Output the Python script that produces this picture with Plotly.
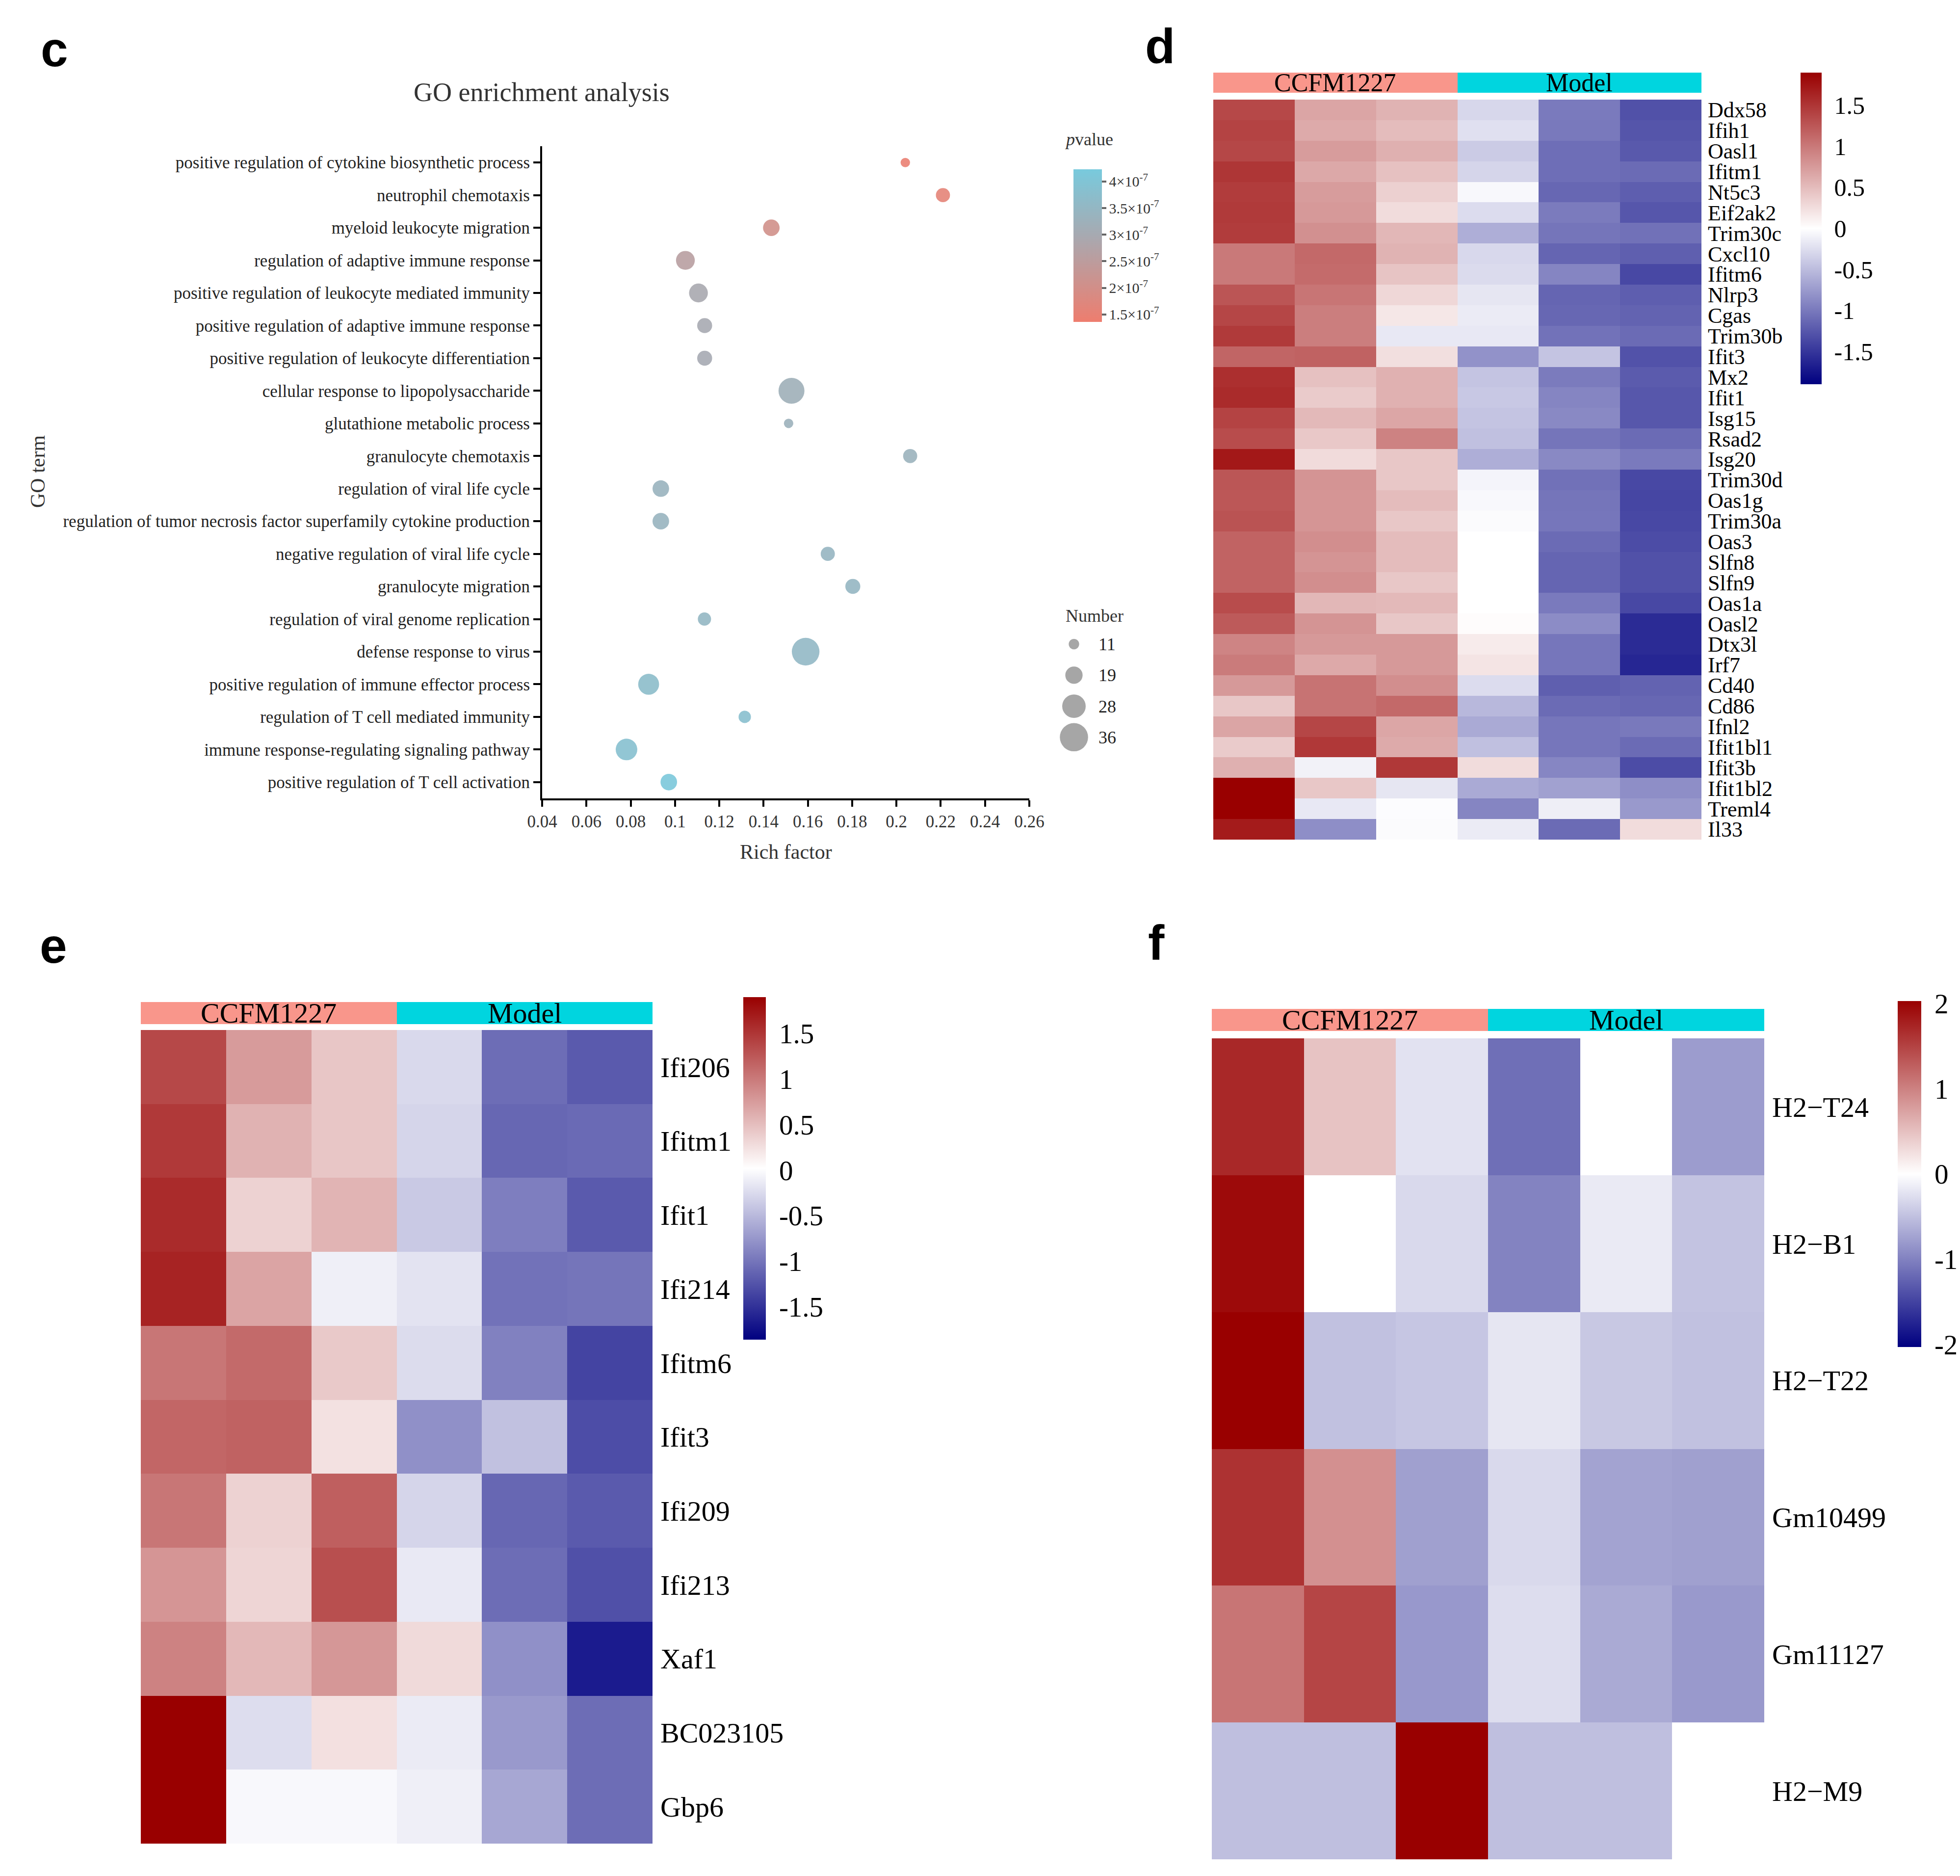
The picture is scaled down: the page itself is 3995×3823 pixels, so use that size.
"""
GO enrichment dot plot (c) and three z-score heatmaps (d, e, f), drawn in one Plotly page.
"""

import plotly.graph_objects as go

W, H = 3995, 3823
SERIF = "Liberation Serif, Times New Roman, serif"
SANS = "Liberation Sans, Arial, sans-serif"

# ---------------------------------------------------------------------------
# Panel c data
# ---------------------------------------------------------------------------
GO_TERMS = [
    "positive regulation of cytokine biosynthetic process",
    "neutrophil chemotaxis",
    "myeloid leukocyte migration",
    "regulation of adaptive immune response",
    "positive regulation of leukocyte mediated immunity",
    "positive regulation of adaptive immune response",
    "positive regulation of leukocyte differentiation",
    "cellular response to lipopolysaccharide",
    "glutathione metabolic process",
    "granulocyte chemotaxis",
    "regulation of viral life cycle",
    "regulation of tumor necrosis factor superfamily cytokine production",
    "negative regulation of viral life cycle",
    "granulocyte migration",
    "regulation of viral genome replication",
    "defense response to virus",
    "positive regulation of immune effector process",
    "regulation of T cell mediated immunity",
    "immune response-regulating signaling pathway",
    "positive regulation of T cell activation",
]
RICH_FACTOR = [0.204, 0.221, 0.1435, 0.1047, 0.1106, 0.1134, 0.1134, 0.1526, 0.1513, 0.2062,
               0.0936, 0.0936, 0.169, 0.1803, 0.1133, 0.159, 0.0881, 0.1315, 0.0781, 0.0972]
GENE_NUMBER = [10, 15, 18, 21, 21, 16, 16, 32, 10, 15,
               18, 18, 15, 16, 14, 35, 24, 13, 25, 18]
P_VALUE = [1.45e-7, 1.6e-7, 2.05e-7, 2.6e-7, 2.95e-7, 3.0e-7, 3.02e-7, 3.2e-7, 3.28e-7, 3.3e-7,
           3.35e-7, 3.38e-7, 3.45e-7, 3.47e-7, 3.5e-7, 3.55e-7, 3.7e-7, 3.8e-7, 3.85e-7, 4.15e-7]
X_TICKS = [0.04, 0.06, 0.08, 0.1, 0.12, 0.14, 0.16, 0.18, 0.2, 0.22, 0.24, 0.26]
P_TICKS = [1.5e-7, 2e-7, 2.5e-7, 3e-7, 3.5e-7, 4e-7]
P_TICK_TEXT = ["1.5×10<sup>-7</sup>", "2×10<sup>-7</sup>", "2.5×10<sup>-7</sup>",
               "3×10<sup>-7</sup>", "3.5×10<sup>-7</sup>", "4×10<sup>-7</sup>"]
SIZE_LEGEND = [11, 19, 28, 36]

# ---------------------------------------------------------------------------
# Heatmap data (row z-scores)
# ---------------------------------------------------------------------------
SAMPLES = ["CCFM1227_1", "CCFM1227_2", "CCFM1227_3", "Model_1", "Model_2", "Model_3"]
GROUPS = ["CCFM1227", "CCFM1227", "CCFM1227", "Model", "Model", "Model"]
GROUP_NAMES = ["CCFM1227", "Model"]

D_GENES = ["Ddx58", "Ifih1", "Oasl1", "Ifitm1", "Nt5c3", "Eif2ak2", "Trim30c", "Cxcl10",
           "Ifitm6", "Nlrp3", "Cgas", "Trim30b", "Ifit3", "Mx2", "Ifit1", "Isg15", "Rsad2",
           "Isg20", "Trim30d", "Oas1g", "Trim30a", "Oas3", "Slfn8", "Slfn9", "Oas1a", "Oasl2",
           "Dtx3l", "Irf7", "Cd40", "Cd86", "Ifnl2", "Ifit1bl1", "Ifit3b", "Ifit1bl2",
           "Treml4", "Il33"]
D_VALUES = [
    [1.36, 0.67, 0.57, -0.30, -0.99, -1.30],
    [1.40, 0.63, 0.50, -0.23, -1.00, -1.27],
    [1.37, 0.74, 0.59, -0.39, -1.08, -1.24],
    [1.50, 0.65, 0.46, -0.31, -1.08, -1.10],
    [1.45, 0.74, 0.35, -0.05, -1.13, -1.20],
    [1.47, 0.76, 0.26, -0.26, -0.98, -1.26],
    [1.45, 0.83, 0.54, -0.60, -1.03, -1.06],
    [1.00, 1.12, 0.57, -0.29, -1.15, -1.19],
    [1.00, 1.10, 0.44, -0.27, -0.91, -1.36],
    [1.27, 1.03, 0.30, -0.19, -1.15, -1.20],
    [1.38, 0.96, 0.18, -0.15, -1.13, -1.16],
    [1.47, 0.96, -0.17, -0.17, -1.05, -1.10],
    [1.15, 1.17, 0.24, -0.81, -0.44, -1.29],
    [1.55, 0.46, 0.58, -0.44, -0.98, -1.22],
    [1.58, 0.39, 0.58, -0.41, -0.91, -1.25],
    [1.40, 0.52, 0.66, -0.44, -0.88, -1.25],
    [1.33, 0.41, 0.93, -0.47, -1.03, -1.10],
    [1.72, 0.27, 0.42, -0.60, -0.88, -0.99],
    [1.26, 0.80, 0.42, -0.08, -1.06, -1.36],
    [1.25, 0.79, 0.50, -0.05, -1.03, -1.38],
    [1.28, 0.79, 0.42, -0.03, -1.02, -1.36],
    [1.16, 0.84, 0.50, 0.00, -1.10, -1.33],
    [1.16, 0.80, 0.50, 0.00, -1.15, -1.30],
    [1.16, 0.84, 0.42, 0.00, -1.15, -1.30],
    [1.33, 0.54, 0.52, 0.00, -0.99, -1.36],
    [1.23, 0.80, 0.42, 0.02, -0.86, -1.58],
    [0.92, 0.76, 0.76, 0.15, -1.02, -1.58],
    [0.98, 0.64, 0.76, 0.20, -1.02, -1.62],
    [0.76, 1.04, 0.84, -0.26, -1.19, -1.16],
    [0.42, 1.04, 1.12, -0.53, -1.10, -1.13],
    [0.67, 1.38, 0.66, -0.63, -1.02, -1.00],
    [0.39, 1.48, 0.63, -0.47, -1.02, -1.10],
    [0.59, -0.10, 1.48, 0.26, -0.90, -1.33],
    [1.90, 0.42, -0.19, -0.63, -0.70, -0.84],
    [1.90, -0.17, -0.02, -0.91, -0.13, -0.76],
    [1.70, -0.84, -0.03, -0.15, -1.10, 0.26],
]

E_GENES = ["Ifi206", "Ifitm1", "Ifit1", "Ifi214", "Ifitm6", "Ifit3", "Ifi209", "Ifi213",
           "Xaf1", "BC023105", "Gbp6"]
E_VALUES = [
    [1.37, 0.76, 0.44, -0.26, -1.06, -1.20],
    [1.48, 0.59, 0.44, -0.29, -1.10, -1.08],
    [1.58, 0.35, 0.57, -0.38, -0.93, -1.20],
    [1.64, 0.69, -0.10, -0.19, -1.02, -1.00],
    [1.03, 1.12, 0.42, -0.24, -0.91, -1.36],
    [1.15, 1.18, 0.24, -0.80, -0.44, -1.29],
    [1.03, 0.35, 1.20, -0.29, -1.10, -1.20],
    [0.80, 0.33, 1.32, -0.14, -1.06, -1.27],
    [0.94, 0.54, 0.79, 0.29, -0.80, -1.66],
    [1.90, -0.23, 0.25, -0.13, -0.73, -1.06],
    [1.90, -0.03, -0.03, -0.10, -0.63, -1.06],
]

F_GENES = ["H2−T24", "H2−B1", "H2−T22", "Gm10499", "Gm11127", "H2−M9"]
F_VALUES = [
    [1.71, 0.48, -0.23, -1.15, 0.00, -0.79],
    [1.95, 0.00, -0.30, -0.99, -0.17, -0.48],
    [2.03, -0.49, -0.45, -0.20, -0.44, -0.49],
    [1.63, 0.88, -0.76, -0.30, -0.73, -0.76],
    [1.10, 1.48, -0.82, -0.27, -0.68, -0.81],
    [-0.51, -0.51, 2.03, -0.51, -0.51, 0.00],
]

TICKS_DE = [-1.5, -1, -0.5, 0, 0.5, 1, 1.5]
TICKS_F = [-2, -1, 0, 1, 2]

# ---------------------------------------------------------------------------
# Styles
# ---------------------------------------------------------------------------
P_COLORS = [[0.0, "#EE7D6E"], [0.55, "#A9A8AF"], [1.0, "#78CADD"]]
HEAT_COLORS = [[0.0, "#000080"], [0.5, "#FFFFFF"], [1.0, "#990000"]]
GROUP_COLORS = [[0.0, "#F9968B"], [0.5, "#F9968B"], [0.5, "#00D5DF"], [1.0, "#00D5DF"]]


def fx(px):
    return px / W


def fy(py):
    return 1 - py / H


def dot_size(n):
    """Marker diameter (px) for a gene count."""
    return 13.5 * n ** 0.5 - 23.5


def hidden_axis(**kw):
    base = dict(visible=False, showgrid=False, zeroline=False, fixedrange=True)
    base.update(kw)
    return base


fig = go.Figure()

# --- c: dot plot ---
fig.add_trace(go.Scatter(
    x=RICH_FACTOR, y=GO_TERMS, mode="markers",
    marker=dict(size=[dot_size(n) for n in GENE_NUMBER], color=P_VALUE,
                coloraxis="coloraxis", opacity=0.9, line=dict(width=0)),
    xaxis="x", yaxis="y", showlegend=False,
))

# --- c: size legend ---
fig.add_trace(go.Scatter(
    x=[0] * len(SIZE_LEGEND), y=[str(n) for n in SIZE_LEGEND], mode="markers",
    marker=dict(size=[dot_size(n) for n in SIZE_LEGEND], color="#808080", line=dict(width=0)),
    xaxis="x2", yaxis="y2", showlegend=False,
))

# --- heatmaps + group bars ---
panels = [
    # values, genes, heat axes, bar axes, coloraxis
    (D_VALUES, D_GENES, ("x3", "y3"), ("x4", "y4"), "coloraxis2"),
    (E_VALUES, E_GENES, ("x5", "y5"), ("x6", "y6"), "coloraxis3"),
    (F_VALUES, F_GENES, ("x7", "y7"), ("x8", "y8"), "coloraxis4"),
]
group_codes = [[GROUP_NAMES.index(g) for g in GROUPS]]
for values, genes, (hx, hy), (bx, by), cax in panels:
    fig.add_trace(go.Heatmap(z=values, x=SAMPLES, y=genes, coloraxis=cax,
                             xaxis=hx, yaxis=hy, hoverongaps=False))
    fig.add_trace(go.Heatmap(z=group_codes, x=SAMPLES, y=["Group"], colorscale=GROUP_COLORS,
                             zmin=0, zmax=1, showscale=False, xaxis=bx, yaxis=by))

# ---------------------------------------------------------------------------
# Layout
# ---------------------------------------------------------------------------
layout = dict(
    width=W, height=H,
    margin=dict(l=0, r=0, t=0, b=0),
    paper_bgcolor="white", plot_bgcolor="white",
    font=dict(family=SERIF, color="#222222"),
    xaxis=dict(domain=[fx(1097), fx(2090)], range=[0.04, 0.26], tickmode="array",
               tickvals=X_TICKS, ticktext=[f"{t:g}" for t in X_TICKS],
               showline=True, linewidth=4, linecolor="black", ticks="outside",
               ticklen=13, tickwidth=4, tickcolor="black", showgrid=False, zeroline=False,
               tickfont=dict(family=SERIF, size=35, color="#333333"), anchor="y",
               automargin=False),
    yaxis=dict(domain=[fy(1619), fy(290)], type="category", categoryorder="array",
               categoryarray=GO_TERMS, tickmode="array", tickvals=GO_TERMS, ticktext=GO_TERMS,
               range=[len(GO_TERMS) - 0.5, -0.5],
               showline=True, linewidth=4, linecolor="black", ticks="outside",
               ticklen=14, tickwidth=4, tickcolor="black", showgrid=False, zeroline=False,
               tickfont=dict(family=SERIF, size=35, color="#222222"), anchor="x",
               automargin=False),
    xaxis2=hidden_axis(domain=[fx(2150), fx(2212)], range=[-1, 1], anchor="y2"),
    yaxis2=dict(domain=[fy(1526), fy(1273)], type="category", tickmode="array",
                tickvals=[str(n) for n in SIZE_LEGEND], ticktext=[str(n) for n in SIZE_LEGEND],
                range=[len(SIZE_LEGEND) - 0.5, -0.5], side="right", anchor="x2",
                showline=False, showgrid=False, zeroline=False, ticks="",
                ticklabelstandoff=18, tickfont=dict(family=SERIF, size=36, color="#222222"),
                fixedrange=True, automargin=False),
    coloraxis=dict(
        colorscale=P_COLORS, cmin=1.36e-7, cmax=4.23e-7,
        colorbar=dict(x=fx(2180), xanchor="left", y=fy(337), yanchor="top",
                      len=311, lenmode="pixels", thickness=58, thicknessmode="pixels",
                      xpad=0, ypad=0, outlinewidth=0, tickmode="array",
                      tickvals=P_TICKS, ticktext=P_TICK_TEXT,
                      ticks="outside", ticklen=9, tickwidth=4, tickcolor="#666666",
                      tickfont=dict(family=SERIF, size=30, color="#333333")),
    ),
)

heat_geometry = [
    # heat x, heat y, bar y, label standoff, font size, colorbar (x, top, len, thick), range, ticks, cb font
    ((2465, 3460), (195, 1703), (130, 181), 12, 44, (3662, 140, 635, 43), (-1.9, 1.9), TICKS_DE, 50),
    ((279, 1322), (2091, 3749), (2022, 2079), 15, 58, (1507, 2024, 698, 46), (-1.86, 1.9), TICKS_DE, 57),
    ((2462, 3588), (2108, 3781), (2036, 2093), 15, 58, (3860, 2032, 705, 48), (-2.03, 2.03), TICKS_F, 57),
]
for i, (hxr, hyr, byr, standoff, fsize, cb, zr, ticks, cbsize) in enumerate(heat_geometry):
    hx, bx = 3 + 2 * i, 4 + 2 * i
    genes = panels[i][1]
    layout[f"xaxis{hx}"] = hidden_axis(domain=[fx(hxr[0]), fx(hxr[1])], anchor=f"y{hx}")
    layout[f"yaxis{hx}"] = dict(
        domain=[fy(hyr[1]), fy(hyr[0])], anchor=f"x{hx}", side="right",
        autorange="reversed", type="category", tickmode="array", tickvals=genes,
        ticktext=genes, showline=False, showgrid=False,
        zeroline=False, ticks="", ticklabelstandoff=standoff,
        tickfont=dict(family=SERIF, size=fsize, color="black"), automargin=False,
    )
    layout[f"xaxis{bx}"] = hidden_axis(domain=[fx(hxr[0]), fx(hxr[1])], anchor=f"y{bx}")
    layout[f"yaxis{bx}"] = hidden_axis(domain=[fy(byr[1]), fy(byr[0])], anchor=f"x{bx}")
    layout[f"coloraxis{i + 2}"] = dict(
        colorscale=HEAT_COLORS, cmin=zr[0], cmax=zr[1],
        colorbar=dict(x=fx(cb[0]), xanchor="left", y=fy(cb[1]), yanchor="top",
                      len=cb[2], lenmode="pixels", thickness=cb[3], thicknessmode="pixels",
                      xpad=0, ypad=0, outlinewidth=0, tickmode="array", tickvals=ticks,
                      ticktext=[f"{t:g}" for t in ticks], ticks="outside", ticklen=16,
                      tickcolor="rgba(0,0,0,0)",
                      tickfont=dict(family=SERIF, size=cbsize, color="black")),
    )

annotations = []
# panel letters
for letter, (px, py) in zip("cdef", [(103, 92), (2356, 86), (101, 1919), (2349, 1913)]):
    annotations.append(dict(text=letter, x=fx(px), y=fy(py), xref="paper", yref="paper",
                            xanchor="center", yanchor="middle", showarrow=False,
                            font=dict(family=SANS, size=100, color="black", weight="bold")))

annotations += [
    dict(text="GO enrichment analysis", x=fx(1096), y=fy(180), xref="paper", yref="paper",
         showarrow=False, xanchor="center", yanchor="middle",
         font=dict(family=SERIF, size=54, color="#333333")),
    dict(text="Rich factor", x=fx(1594), y=fy(1728), xref="paper", yref="paper",
         showarrow=False, xanchor="center", yanchor="middle",
         font=dict(family=SERIF, size=42, color="#333333")),
    dict(text="GO term", x=fx(69), y=fy(953), xref="paper", yref="paper", textangle=-90,
         showarrow=False, xanchor="center", yanchor="middle",
         font=dict(family=SERIF, size=42, color="#333333")),
    dict(text="<i>p</i>value", x=fx(2160), y=fy(276), xref="paper", yref="paper",
         showarrow=False, xanchor="left", yanchor="middle",
         font=dict(family=SERIF, size=36, color="#333333")),
    dict(text="Number", x=fx(2162), y=fy(1247), xref="paper", yref="paper",
         showarrow=False, xanchor="left", yanchor="middle",
         font=dict(family=SERIF, size=36, color="#333333")),
]

# group labels on the annotation bars
for i, fsize in enumerate([52, 58, 58]):
    bx, by = 4 + 2 * i, 4 + 2 * i
    for name in GROUP_NAMES:
        idx = [k for k, g in enumerate(GROUPS) if g == name]
        annotations.append(dict(text=name, x=sum(idx) / len(idx), y=0,
                                xref=f"x{bx}", yref=f"y{by}", showarrow=False,
                                xanchor="center", yanchor="middle",
                                font=dict(family=SERIF, size=fsize, color="black")))

layout["annotations"] = annotations
fig.update_layout(**layout)

fig.write_html("out.html")
